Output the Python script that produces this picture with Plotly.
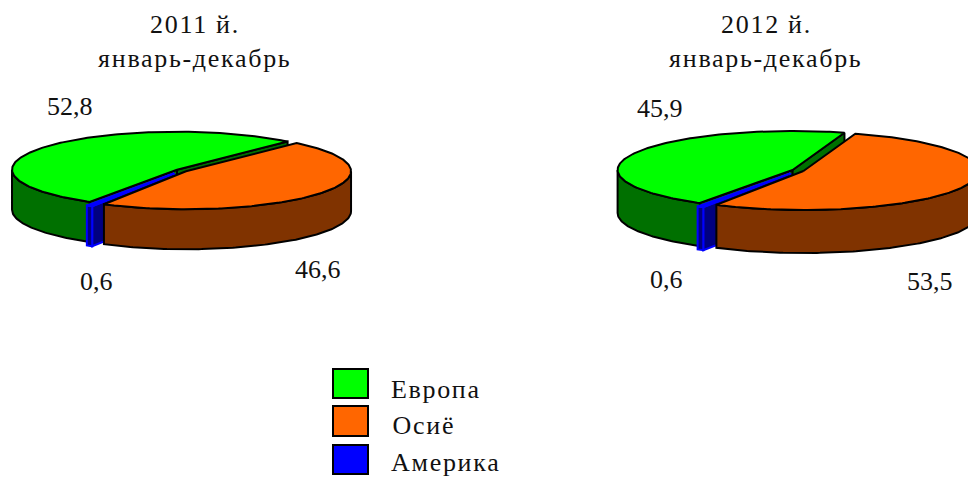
import numpy as np
import plotly.graph_objects as go

REGIONS = ["Европа", "Осиё", "Америка"]
SHARE_2011 = [52.8, 46.6, 0.6]
SHARE_2012 = [45.9, 53.5, 0.6]
LABELS_2011 = ["52,8", "46,6", "0,6"]
LABELS_2012 = ["45,9", "53,5", "0,6"]
YEARS = ["2011 й.", "2012 й."]
PERIOD = "январь-декабрь"

TOP_COLOURS = ["#00ff00", "#ff6600", "#0000ff"]
SIDE_COLOURS = ["#007000", "#803300", "#000080"]
EDGE_COLOURS = ["#000000", "#000000", "#0000ff"]
EXPLODE = [0.034, 0.034, 0.085]
DRAW_ORDER = [0, 2, 1]
START_ANGLE = 212
FONT = "Liberation Serif"
TEXT_COLOUR = "#111111"

# no page margin, and the stretched look of the words in the original
POST_JS = """
document.body.style.margin = '0';
document.body.style.overflow = 'hidden';
document.querySelectorAll('.annotation-text').forEach(function (t) {
  if (!/^[0-9,]+$/.test(t.textContent)) { t.style.letterSpacing = '1.7px'; }
});
"""


def _arc(c, a0, a1):
    t = np.radians(np.linspace(a0, a1, max(int(abs(a1 - a0)), 2) + 1))
    return c["cx"] + c["rx"] * np.sin(t), c["cy"] - c["ry"] * np.cos(t)


def _poly(fig, x, y, fill, edge):
    fig.add_trace(go.Scatter(
        x=np.append(x, x[0]), y=np.append(y, y[0]),
        mode="lines", fill="toself", fillcolor=fill,
        line=dict(color=edge, width=2),
        hoverinfo="skip", showlegend=False,
    ))


def add_pie(fig, shares, geo):
    total = sum(shares)
    sweeps = [s / total * 360 for s in shares]
    starts = START_ANGLE + np.cumsum([0] + sweeps[:-1])
    for i in DRAW_ORDER:
        a0, a1 = starts[i], starts[i] + sweeps[i]
        mid = np.radians((a0 + a1) / 2)
        c = dict(geo)
        c["cx"] += EXPLODE[i] * geo["rx"] * np.sin(mid)
        c["cy"] -= EXPLODE[i] * geo["ry"] * np.cos(mid)
        d = geo["depth"]
        # radial faces that look towards the viewer
        for ang, sign in ((a0, -1), (a1, 1)):
            r = np.radians(ang)
            if sign * -np.sin(r) < 0:
                ox, oy = _arc(c, ang, ang)
                ox, oy = ox[0], oy[0]
                _poly(fig, np.array([c["cx"], ox, ox, c["cx"]]),
                      np.array([c["cy"], oy, oy + d, c["cy"] + d]),
                      SIDE_COLOURS[i], EDGE_COLOURS[i])
        # outer wall, front half only
        for lo, hi in ((90, 270), (450, 630)):
            w0, w1 = max(a0, lo), min(a1, hi)
            if w1 > w0:
                wx, wy = _arc(c, w0, w1)
                _poly(fig, np.r_[wx, wx[::-1]], np.r_[wy, wy[::-1] + d],
                      SIDE_COLOURS[i], EDGE_COLOURS[i])
        # top
        tx, ty = _arc(c, a0, a1)
        _poly(fig, np.r_[c["cx"], tx], np.r_[c["cy"], ty],
              TOP_COLOURS[i], EDGE_COLOURS[i])


def note(fig, x, y, text, size=26, anchor="center"):
    fig.add_annotation(
        x=x, y=y, xref="x", yref="y", text=text, showarrow=False,
        xanchor=anchor, yanchor="middle",
        font=dict(family=FONT, size=size, color=TEXT_COLOUR),
    )


fig = go.Figure()
add_pie(fig, SHARE_2011, dict(cx=181.5, cy=170.5, rx=165, ry=38, depth=40))
add_pie(fig, SHARE_2012, dict(cx=798, cy=170.5, rx=175, ry=39, depth=43))

note(fig, 195, 24, YEARS[0])
note(fig, 195, 58, PERIOD)
note(fig, 766, 24, YEARS[1])
note(fig, 766, 58, PERIOD)

for (x, y), t in zip([(70, 106), (318, 269), (96, 281)], LABELS_2011):
    note(fig, x, y, t)
for (x, y), t in zip([(660, 108), (930, 281), (666, 279)], LABELS_2012):
    note(fig, x, y, t)

swatches = [(369, 398), (406, 436), (445, 474)]
text_pos = [(393.5, 389), (394, 425), (395, 462.5)]
for (y0, y1), (tx, ty), col, name in zip(swatches, text_pos, TOP_COLOURS, REGIONS):
    fig.add_shape(type="rect", x0=333, x1=368, y0=y0, y1=y1, xref="x", yref="y",
                  fillcolor=col, line=dict(color="#000000", width=2))
    note(fig, tx, ty, name, anchor="left")

fig.update_layout(
    width=968, height=477,
    margin=dict(l=0, r=0, t=0, b=0),
    paper_bgcolor="#ffffff", plot_bgcolor="#ffffff",
    showlegend=False,
    xaxis=dict(range=[0, 968], visible=False, fixedrange=True),
    yaxis=dict(range=[477, 0], visible=False, fixedrange=True),
)
fig.write_html("out.html", post_script=POST_JS, config={"displayModeBar": False})
